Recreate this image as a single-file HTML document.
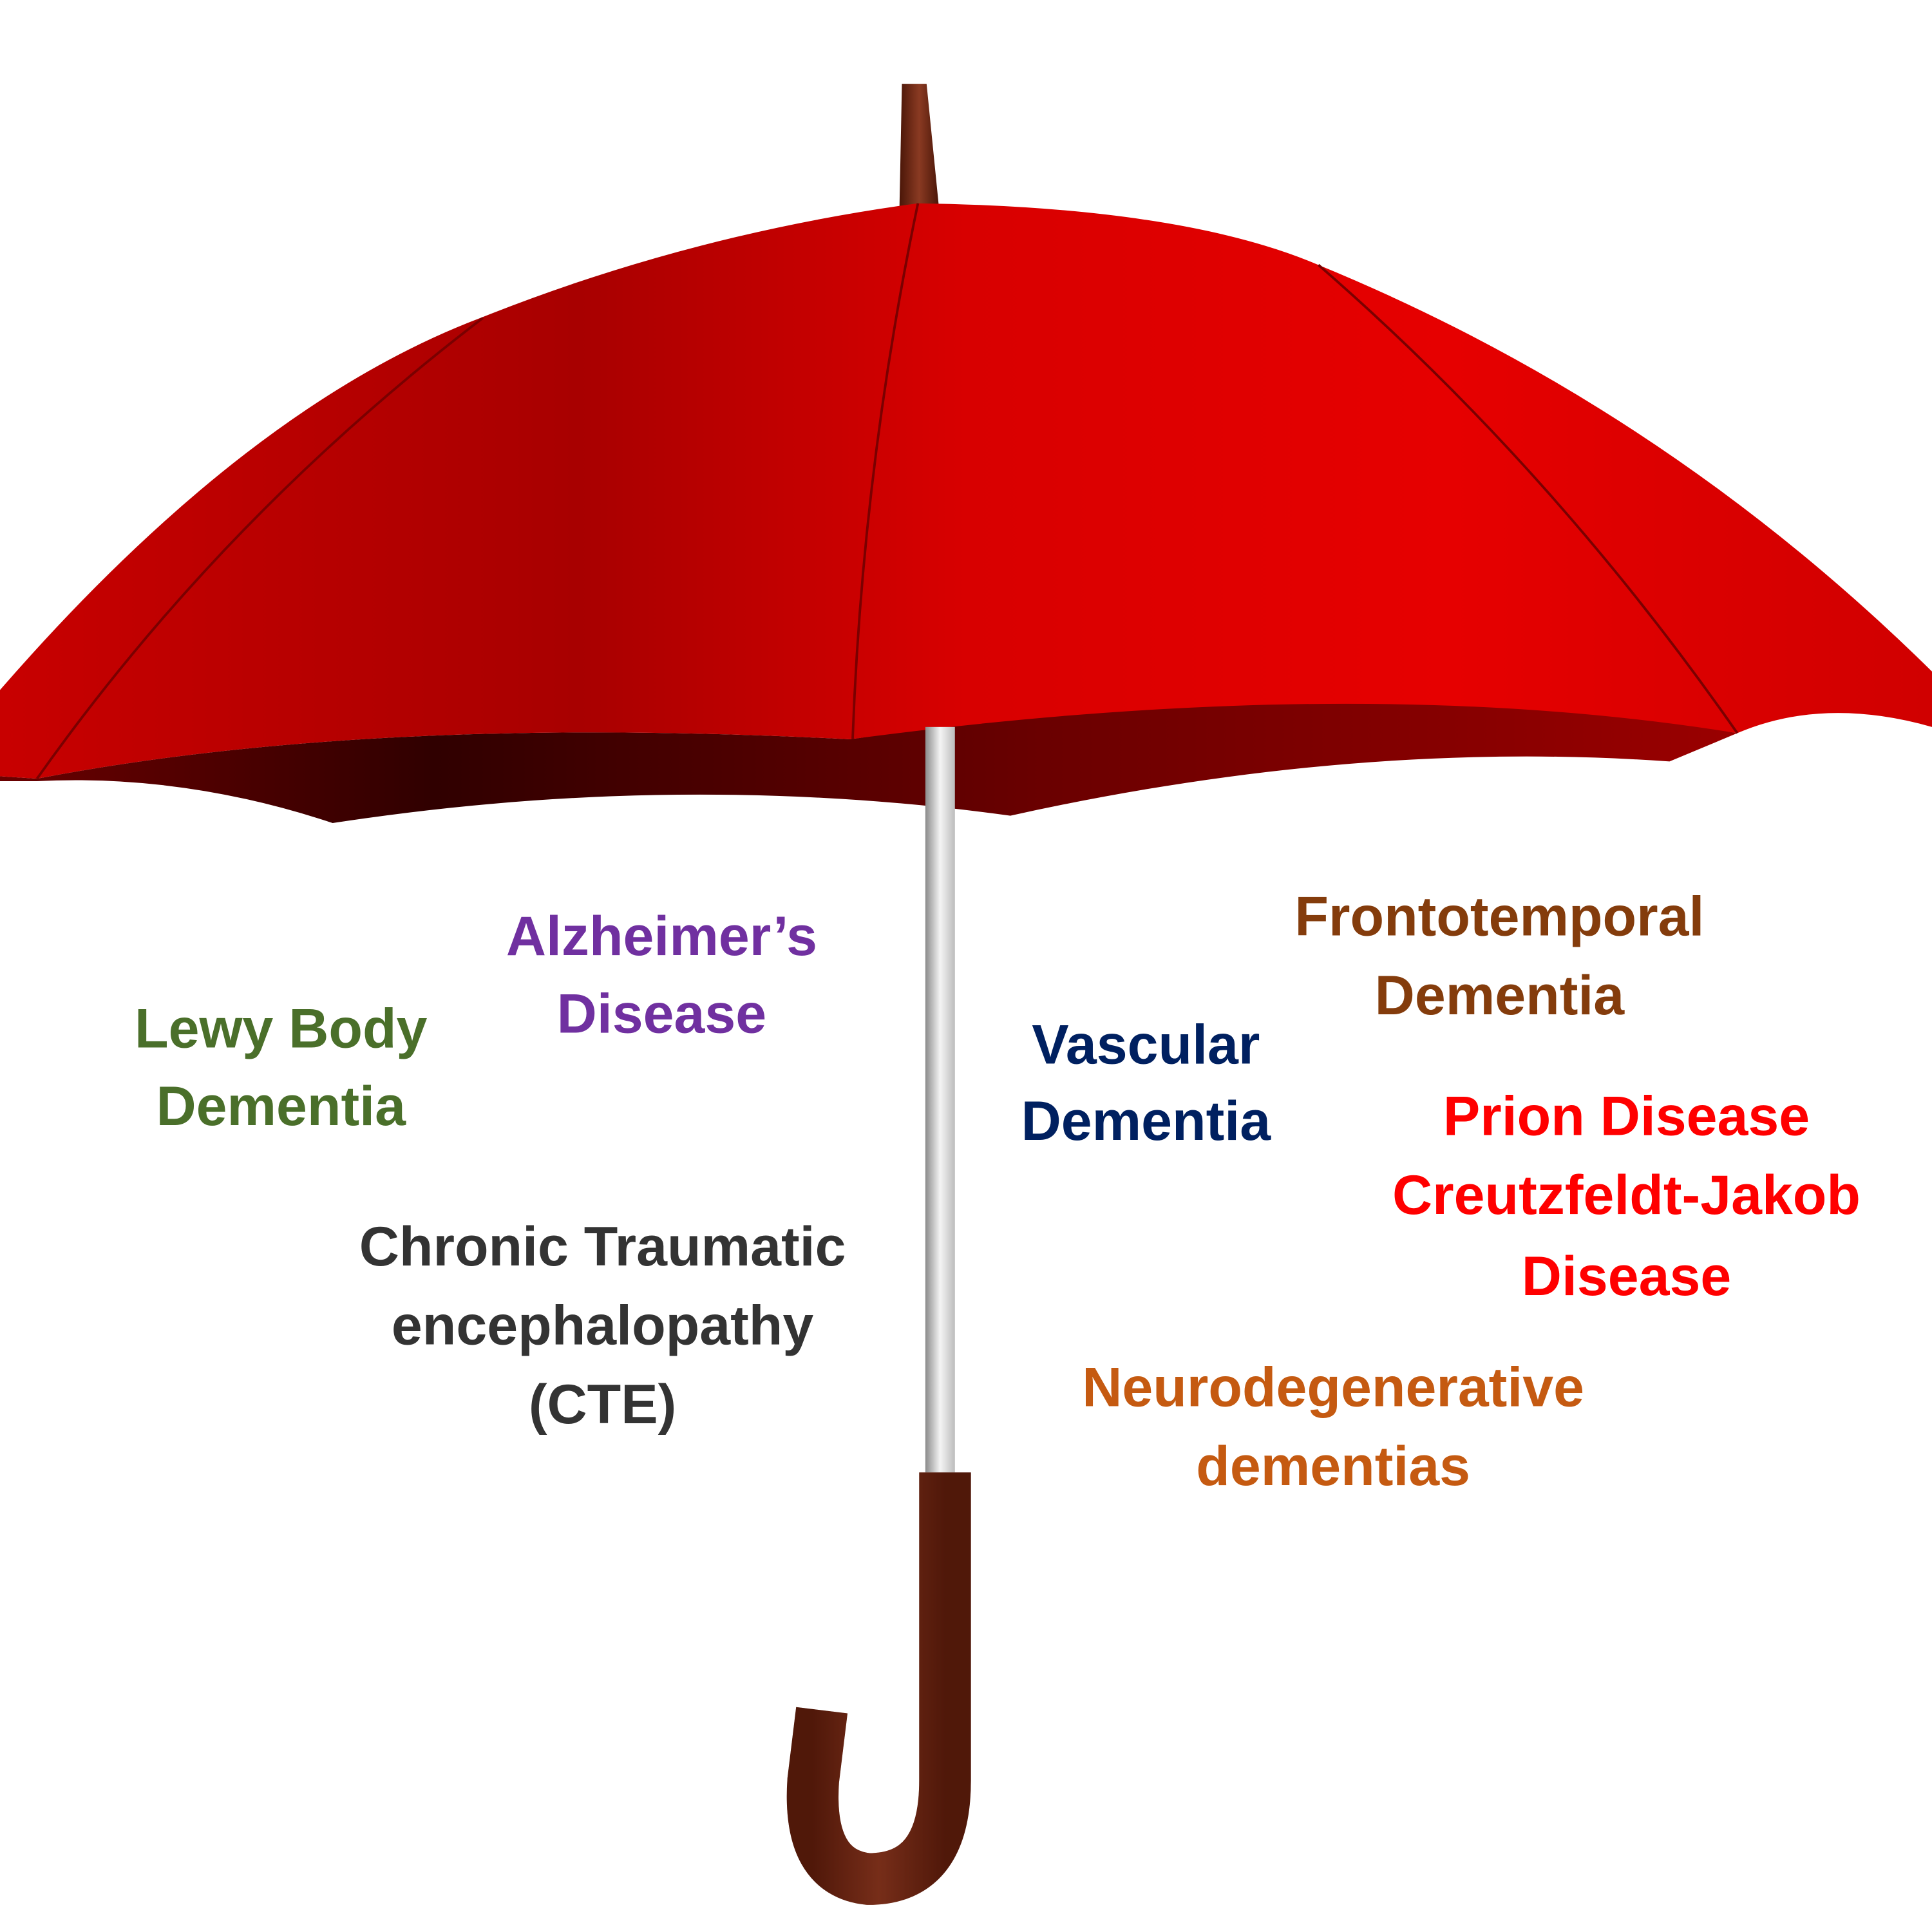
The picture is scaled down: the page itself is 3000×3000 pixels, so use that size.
<!DOCTYPE html>
<html><head><meta charset="utf-8"><style>html,body{margin:0;padding:0;background:#fff;}svg{display:block}</style></head>
<body>
<svg width="3000" height="3000" viewBox="0 0 1568 1568" xmlns="http://www.w3.org/2000/svg">
<defs>
<linearGradient id="red" x1="0" y1="0" x2="1" y2="0">
<stop offset="0" stop-color="#c80000"/><stop offset="0.3" stop-color="#a80000"/><stop offset="0.5" stop-color="#d80000"/><stop offset="0.75" stop-color="#e60000"/><stop offset="1" stop-color="#d00000"/></linearGradient>
<linearGradient id="under" x1="0" y1="0" x2="1" y2="0">
<stop offset="0" stop-color="#6a0000"/><stop offset="0.25" stop-color="#300000"/><stop offset="0.6" stop-color="#6a0000"/><stop offset="1" stop-color="#9a0000"/></linearGradient>
<linearGradient id="shaft" x1="0" y1="0" x2="1" y2="0">
<stop offset="0" stop-color="#8a8a8a"/><stop offset="0.5" stop-color="#f4f4f4"/><stop offset="1" stop-color="#bcbcbc"/></linearGradient>
<linearGradient id="wood" x1="0" y1="0" x2="1" y2="0">
<stop offset="0" stop-color="#4a1608"/><stop offset="0.5" stop-color="#8a3a22"/><stop offset="1" stop-color="#4a1608"/></linearGradient>
</defs>
<polygon points="732,68 752,68 762,168 730,168" fill="url(#wood)"/>
<path d="M0,630 L30,632 Q300,580 690,600 Q1100,540 1410,595 L1355,618 Q1100,600 820,662 Q550,625 270,668 Q150,628 30,634 L0,634 Z" fill="url(#under)"/>
<path d="M0,560 Q200,330 390,258 Q560,190 745,165 Q960,168 1070,215 Q1350,330 1568,545 L1568,590 Q1480,565 1410,595 Q1100,545 690,600 Q300,580 30,632 L0,630 Z" fill="url(#red)"/>
<g fill="none" stroke="#7a0000" stroke-width="2">
<path d="M745,165 Q700,380 692,600"/>
<path d="M392,258 Q180,420 30,632"/>
<path d="M1070,215 Q1260,380 1410,595"/>
</g>
<rect x="751" y="590" width="24" height="605" fill="url(#shaft)"/>
<path d="M767,1195 L767,1445 Q767,1525 705,1525 Q655,1520 660,1445 L667,1388" fill="none" stroke="url(#wood)" stroke-width="42"/>
<path d="M767,1195 L767,1445 Q767,1525 705,1525 Q655,1520 660,1445 L667,1388" fill="none" stroke="#5a1c0c" stroke-width="42" stroke-opacity="0.4"/>
<g font-family="Liberation Sans, sans-serif" font-weight="bold" font-size="45" text-anchor="middle" dominant-baseline="central">
<text fill="#4a6f2a"><tspan x="228" y="835">Lewy Body</tspan><tspan x="228" y="898">Dementia</tspan></text>
<text fill="#7030a0"><tspan x="537" y="760">Alzheimer’s</tspan><tspan x="537" y="823">Disease</tspan></text>
<text fill="#333333"><tspan x="489" y="1012">Chronic Traumatic</tspan><tspan x="489" y="1076">encephalopathy</tspan><tspan x="489" y="1140">(CTE)</tspan></text>
<text fill="#002060"><tspan x="930" y="848">Vascular</tspan><tspan x="930" y="910">Dementia</tspan></text>
<text fill="#843c0c"><tspan x="1217" y="744">Frontotemporal</tspan><tspan x="1217" y="808">Dementia</tspan></text>
<text fill="#ff0000"><tspan x="1320" y="906">Prion Disease</tspan><tspan x="1320" y="970">Creutzfeldt-Jakob</tspan><tspan x="1320" y="1036">Disease</tspan></text>
<text fill="#c55a11"><tspan x="1082" y="1126">Neurodegenerative</tspan><tspan x="1082" y="1190">dementias</tspan></text>
</g>
</svg>
</body></html>
